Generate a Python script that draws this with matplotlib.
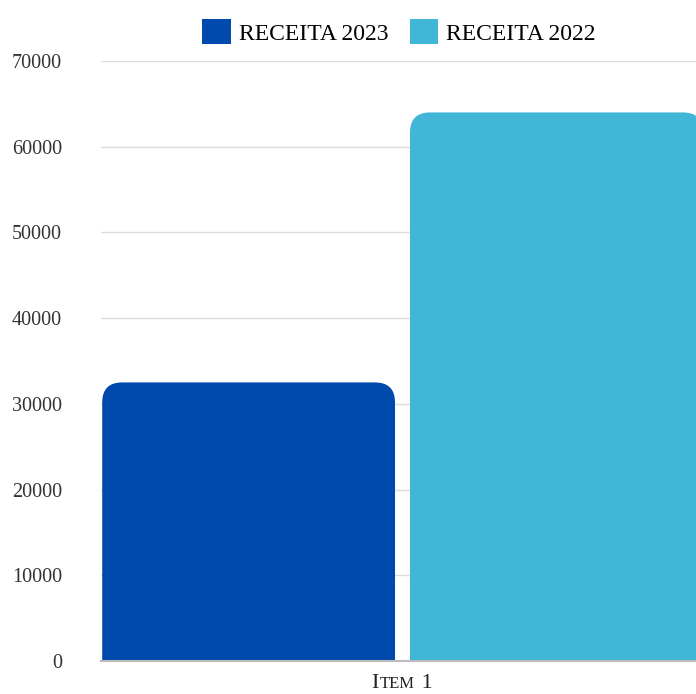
import matplotlib.pyplot as plt
from matplotlib.patches import PathPatch, Rectangle
from matplotlib.path import Path
from matplotlib.offsetbox import TextArea, HPacker, AnnotationBbox

# dados
categories = ["Item 1"]
series_names = ["RECEITA 2023", "RECEITA 2022"]
series_values = [[32500], [64000]]
colors = ["#004AAD", "#41B6D6"]
yticks = [0, 10000, 20000, 30000, 40000, 50000, 60000, 70000]

plt.rcParams['font.family'] = ['Liberation Serif', 'DejaVu Serif']

W, H = 696, 694
fig = plt.figure(figsize=(W / 100, H / 100), dpi=100)
# eixo vai um pouco alem da borda direita, como no original
ax = fig.add_axes([101 / W, 1 - 661 / H, 602 / W, 600 / H])
ax.set_xlim(-0.5, 0.5)
ax.set_ylim(0, 70000)


def rounded_bar(x0, x1, h, rx, ry):
    # barra com os cantos de cima arredondados
    verts = [(x0, 0), (x0, h - ry), (x0, h), (x0 + rx, h), (x1 - rx, h),
             (x1, h), (x1, h - ry), (x1, 0), (x0, 0)]
    codes = [Path.MOVETO, Path.LINETO, Path.CURVE3, Path.CURVE3, Path.LINETO,
             Path.CURVE3, Path.CURVE3, Path.LINETO, Path.CLOSEPOLY]
    return Path(verts, codes)


offsets = [(-0.498, -0.0116), (0.0133, 0.5)]
radius_px = 20
rx = radius_px / 602
ry = radius_px * 70000 / 600
handles = []
for (x0, x1), vals, col, name in zip(offsets, series_values, colors, series_names):
    for i, v in enumerate(vals):
        ax.add_patch(PathPatch(rounded_bar(i + x0, i + x1, v, rx, ry),
                               fc=col, ec="none", zorder=3))
    handles.append(Rectangle((0, 0), 1, 1, fc=col, ec="none", label=name))

ax.set_yticks(yticks)
ax.set_yticklabels([str(t) for t in yticks], fontsize=14.5, color="#333333")
ax.tick_params(axis='y', length=0, pad=28)
ax.set_xticks([])
ax.grid(axis='y', color="#dddddd", linewidth=1, zorder=0)
for s in ["top", "right", "left"]:
    ax.spines[s].set_visible(False)
ax.spines["bottom"].set_color("#bbbbbb")
ax.spines["bottom"].set_linewidth(1.5)
ax.spines["bottom"].set_zorder(4)

# rótulo da categoria em versalete
for i, cat in enumerate(categories):
    parts = [TextArea(cat[0].upper(), textprops=dict(fontsize=16, color="#222222")),
             TextArea(cat[1:].split(" ")[0].upper(), textprops=dict(fontsize=12, color="#222222")),
             TextArea(" " + cat.split(" ")[1], textprops=dict(fontsize=16, color="#222222"))]
    pack = HPacker(children=parts, align="baseline", pad=0, sep=1)
    ab = AnnotationBbox(pack, (i, 0), xybox=(0, -16), xycoords=('data', 'axes fraction'),
                        boxcoords="offset points", frameon=False, annotation_clip=False)
    ax.add_artist(ab)

fig.legend(handles=handles, loc='center', bbox_to_anchor=(399 / W, 1 - 32 / H),
           ncol=2, frameon=False, fontsize=17, handlelength=1.2, handleheight=1.2,
           handletextpad=0.35, columnspacing=0.9)

fig.savefig("out.png", dpi=100)
